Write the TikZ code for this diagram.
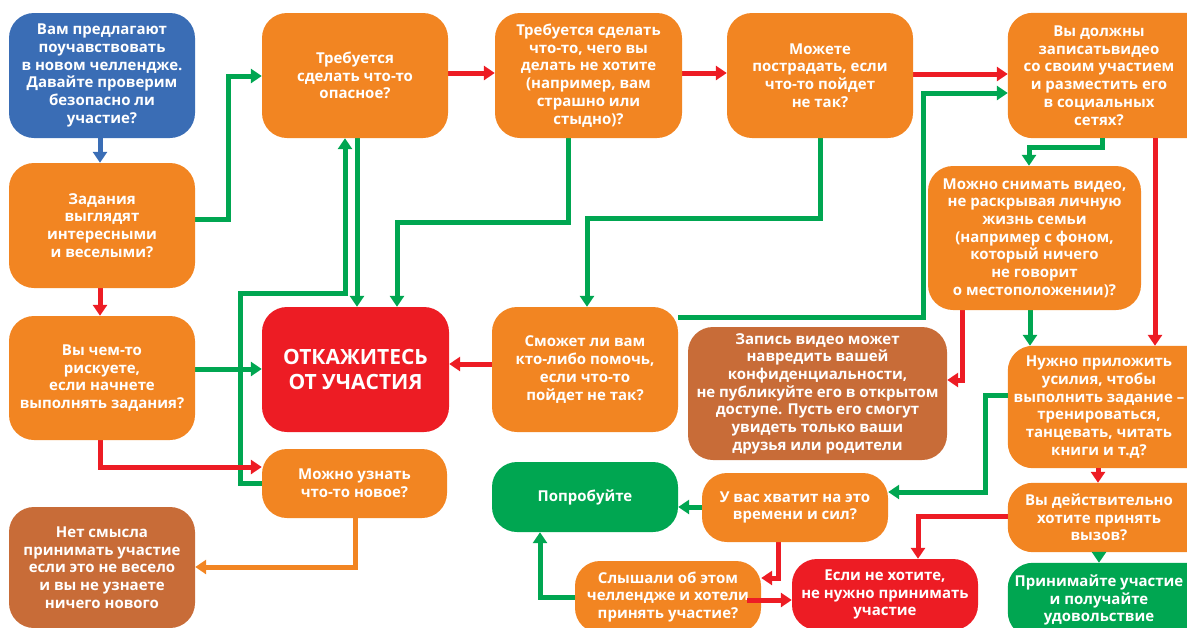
\documentclass[tikz,border=0pt]{standalone}
\usepackage{fontspec}
\setmainfont{Open Sans}
\usetikzlibrary{arrows.meta,calc}
\pgfdeclarelayer{bg}
\pgfdeclarelayer{boxbg}
\pgfsetlayers{boxbg,bg,main}
\definecolor{cblue}{HTML}{3A6DB5}
\definecolor{corange}{HTML}{F28522}
\definecolor{cred}{HTML}{ED1C24}
\definecolor{cgreen}{HTML}{00A651}
\definecolor{cbrown}{HTML}{C86C38}
\begin{document}
\begin{tikzpicture}[x=1pt,y=-1pt,
  box/.style={rectangle, rounded corners=25pt, inner sep=0pt, align=center, text=white,
    font=\bfseries\fontsize{15}{17.7}\selectfont},
  ob/.style={box, fill=corange},
  edgebox/.style={box},
  ln/.style={line width=5pt, -{Triangle[width=14pt,length=11pt]}},
  gl/.style={ln, draw=cgreen},
  rl/.style={ln, draw=cred},
]
\useasboundingbox (0,0) rectangle (1187,627);
% nodes
\node[box, fill=cblue, minimum width=186pt, minimum height=125pt] (n1) at (102,75.5) {Вам предлагают\\поучавствовать\\в новом челлендже.\\Давайте проверим\\безопасно ли\\участие?};
\node[ob, minimum width=186pt, minimum height=125pt] (n2) at (102,225.5) {Задания\\выглядят\\интересными\\и веселыми?};
\node[ob, minimum width=186pt, minimum height=124pt] (n3) at (102,378) {Вы чем-то\\рискуете,\\если начнете\\выполнять задания?};
\node[box, fill=cbrown, minimum width=186pt, minimum height=121pt] (n4) at (102,567.5) {Нет смысла\\принимать участие\\если это не весело\\и вы не узнаете\\ничего нового};
\node[ob, minimum width=186pt, minimum height=125pt] (n5) at (355,75.5) {Требуется\\сделать что-то\\опасное?};
\node[ob, minimum width=187pt, minimum height=125pt] (n6) at (588.5,75.5) {Требуется сделать\\что-то, чего вы\\делать не хотите\\(например, вам\\страшно или\\стыдно)?};
\node[ob, minimum width=186pt, minimum height=125pt] (n7) at (820,75.5) {Можете\\пострадать, если\\что-то пойдет\\не так?};
\node[edgebox, minimum width=182pt, minimum height=125pt] (n8) at (1099,75.5) {Вы должны\\записатьвидео\\со своим участием\\и разместить его\\в социальных\\сетях?};
\node[ob, minimum width=213pt, minimum height=144pt] (n9) at (1034.5,238) {Можно снимать видео,\\не раскрывая личную\\жизнь семьи\\(например с фоном,\\который ничего\\не говорит\\о местоположении)?};
\node[box, fill=cred, minimum width=187pt, minimum height=125pt, font=\bfseries\fontsize{21}{25}\selectfont] (n10) at (355.5,369.5) {ОТКАЖИТЕСЬ\\ОТ УЧАСТИЯ};
\node[ob, minimum width=186pt, minimum height=125pt] (n11) at (585,369.5) {Сможет ли вам\\кто-либо помочь,\\если что-то\\пойдет не так?};
\node[box, fill=cbrown, minimum width=259pt, minimum height=133pt] (n12) at (817.5,393.5) {Запись видео может\\навредить вашей\\конфиденциальности,\\не публикуйте его в открытом\\доступе. Пусть его смогут\\увидеть только ваши\\друзья или родители};
\node[edgebox, minimum width=182pt, minimum height=122pt] (n13) at (1099,407) {Нужно приложить\\усилия, чтобы\\выполнить задание –\\тренироваться,\\танцевать, читать\\книги и т.д?};
\node[edgebox, minimum width=182pt, minimum height=69pt] (n14) at (1099,517.5) {Вы действительно\\хотите принять\\вызов?};
\node[edgebox, minimum width=182pt, minimum height=74pt] (n15) at (1099,600) {Принимайте участие\\и получайте\\удовольствие};
\node[box, fill=cred, minimum width=186pt, minimum height=71pt] (n16) at (885,594.5) {Если не хотите,\\не нужно принимать\\участие};
\node[box, fill=cgreen, minimum width=186pt, minimum height=70pt] (n17) at (585,497) {Попробуйте};
\node[ob, minimum width=186pt, minimum height=69pt] (n18) at (795,507.5) {У вас хватит на это\\времени и сил?};
\node[ob, minimum width=186pt, minimum height=72pt] (n19) at (668,597) {Слышали об этом\\челлендже и хотели\\принять участие?};
\node[ob, minimum width=185pt, minimum height=69pt] (n20) at (354.5,483.5) {Можно узнать\\что-то новое?};
% boxes running off the right edge
\begin{pgfonlayer}{boxbg}
\fill[corange, rounded corners=25pt] (n8.north west) rectangle ($(n8.south east)+(30,0)$);
\fill[corange, rounded corners=25pt] (n13.north west) rectangle ($(n13.south east)+(30,0)$);
\fill[corange, rounded corners=25pt] (n14.north west) rectangle ($(n14.south east)+(30,0)$);
\fill[cgreen, rounded corners=25pt] (n15.north west) rectangle ($(n15.south east)+(30,0)$);
\end{pgfonlayer}
% connectors
\begin{pgfonlayer}{bg}
\draw[ln, draw=cblue] (n1.south -| 100,0) -- (n2.north -| 100,0);
\draw[rl] (n2.south -| 100,0) -- (n3.north -| 100,0);
\draw[gl] (n2.east |- 0,219) -| (228,76) -- (n5.west |- 0,76);
\draw[gl] (n3.east |- 0,369) -- (n10.west |- 0,369);
\draw[gl] (n20.west |- 0,483) -| (240,293) -| (n5.south -| 345,0);
\draw[rl] (n3.south -| 100,0) |- (n20.west |- 0,467);
\draw[gl] (n5.south -| 357,0) -- (n10.north -| 357,0);
\draw[gl] (n6.south -| 568,0) |- (397,222) -- (n10.north -| 397,0);
\draw[rl] (n5.east |- 0,73) -- (n6.west |- 0,73);
\draw[rl] (n6.east |- 0,73) -- (n7.west |- 0,73);
\draw[rl] (n7.east |- 0,74) -- (n8.west |- 0,74);
\draw[gl] (n7.south -| 820,0) |- (587,218) -- (n11.north -| 587,0);
\draw[gl] (n11.east |- 0,317) -| (923,93) -- (n8.west |- 0,93);
\draw[rl] (n11.west |- 0,364) -- (n10.east |- 0,364);
\draw[gl] (n8.south -| 1102,0) |- (1029,147) -- (n9.north -| 1029,0);
\draw[rl] (n8.south -| 1155,0) -- (n13.north -| 1155,0);
\draw[rl] (n9.south -| 962,0) |- (n12.east |- 0,380);
\draw[gl] (n9.south -| 1030,0) -- (n13.north -| 1030,0);
\draw[gl] (n13.west |- 0,395) -| (985,492) -- (n18.east |- 0,492);
\draw[rl] (n13.south -| 1098,0) -- (n14.north -| 1098,0);
\draw[rl] (n14.west |- 0,516) -| (n16.north -| 918,0);
\draw[gl] (n14.south -| 1099,0) -- (n15.north -| 1099,0);
\draw[gl] (n18.west |- 0,507) -- (n17.east |- 0,507);
\draw[rl] (n18.south -| 778,0) |- (n19.east |- 0,578);
\draw[gl] (n19.west |- 0,597) -| (n17.south -| 540,0);
\draw[ln, draw=corange] (n20.south -| 355,0) |- (n4.east |- 0,567);
\end{pgfonlayer}
\draw[rl] ($(n19.east |- 0,600)+(-14,0)$) -- (n16.west |- 0,600);
\end{tikzpicture}
\end{document}
